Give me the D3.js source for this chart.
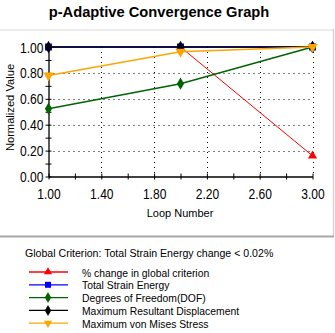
<!DOCTYPE html>
<html>
<head>
<meta charset="utf-8">
<script src="https://cdn.jsdelivr.net/npm/d3@7"></script>
<style>
  html, body { margin: 0; padding: 0; background: #ffffff; }
  svg { display: block; }
  text { font-family: "Liberation Sans", Arial, sans-serif; fill: #000; }
</style>
</head>
<body>
<svg id="chart" width="335" height="333"></svg>
<script>
// Loop numbers on the x axis
const loops = [1, 2, 3];
// Normalized values per loop (null = not reported for that loop)
const pctChange    = [null, 1.00, 0.16];
const strainEnergy = [1.00, 1.00, 1.00];
const dof          = [0.524, 0.717, 1.00];
const maxDisp      = [1.00, 1.00, 1.00];
const maxStress    = [0.78, 0.964, 1.00];

const xTickLabels = ["1.00", "1.40", "1.80", "2.20", "2.60", "3.00"];
const yTickLabels = ["0.00", "0.20", "0.40", "0.60", "0.80", "1.00"];

const seriesNames = [
  "% change in global criterion",
  "Total Strain Energy",
  "Degrees of Freedom(DOF)",
  "Maximum Resultant Displacement",
  "Maximum von Mises Stress"
];
const seriesColors = ["#ff0000", "#0000ff", "#006400", "#000000", "#ffa500"];
const seriesMarkers = ["triUp", "square", "diamond", "diamond", "triDown"];
const seriesValues = [pctChange, strainEnergy, dof, maxDisp, maxStress];

const svg = d3.select("#chart");

// Squeeze a text element horizontally so its glyphs look like a narrow UI font
function condense(sel, factor) {
  sel.each(function () {
    const w = this.getComputedTextLength();
    d3.select(this).attr("textLength", w * factor).attr("lengthAdjust", "spacingAndGlyphs");
  });
}

// Title
svg.append("text")
  .attr("x", 159).attr("y", 17)
  .attr("text-anchor", "middle")
  .style("font-size", "14px").style("font-weight", "bold")
  .text("p-Adaptive Convergence Graph")
  .call(condense, 1.05);

// Chart panel frame
svg.append("line").attr("x1", 0).attr("x2", 334).attr("y1", 30).attr("y2", 30)
  .attr("stroke", "#ececec").attr("stroke-width", 2);
svg.append("line").attr("x1", 333.5).attr("x2", 333.5).attr("y1", 29).attr("y2", 237)
  .attr("stroke", "#d4d4d4").attr("stroke-width", 1.5);
svg.append("line").attr("x1", 0).attr("x2", 334).attr("y1", 236.5).attr("y2", 236.5)
  .attr("stroke", "#a8a8a8").attr("stroke-width", 2);

const x = d3.scaleLinear().domain([1, 3]).range([48.5, 312.5]);
const y = d3.scaleLinear().domain([0, 1]).range([176.5, 47]);

// Dotted grid
const grid = svg.append("g");
const gridX = xTickLabels.map(Number).filter(v => v > 1);
const gridY = yTickLabels.map(Number).filter(v => v > 0 && v < 1);
grid.selectAll("line.gx").data(gridX).join("line")
  .attr("x1", d => Math.round(x(d)) + 0.5).attr("x2", d => Math.round(x(d)) + 0.5)
  .attr("y1", y(1)).attr("y2", y(0))
  .attr("stroke", "#000").attr("stroke-dasharray", "1,4");
grid.selectAll("line.gy").data(gridY).join("line")
  .attr("x1", x(1)).attr("x2", x(3))
  .attr("y1", d => Math.round(y(d)) + 0.5).attr("y2", d => Math.round(y(d)) + 0.5)
  .attr("stroke", "#000").attr("stroke-dasharray", "1,4");

// Axes
const xAxis = d3.axisBottom(x)
  .tickValues(d3.range(1, 3.0001, 0.2))
  .tickSizeInner(3).tickSizeOuter(0)
  .tickFormat(d => {
    const s = d3.format(".2f")(d);
    return xTickLabels.includes(s) ? s : "";
  });
const gx = svg.append("g").attr("transform", `translate(0,${y(0)})`).call(xAxis);
gx.select(".domain").attr("stroke-width", 1.3);
gx.selectAll(".tick line").attr("y1", -3).attr("y2", 3);
gx.selectAll(".tick text")
  .attr("y", 22).attr("dy", null)
  .style("font-size", "14px")
  .call(condense, 0.86);

const yAxis = d3.axisLeft(y)
  .tickValues(d3.range(0, 1.0001, 0.1))
  .tickSizeInner(3).tickSizeOuter(0)
  .tickFormat(d => {
    const s = d3.format(".2f")(d);
    return yTickLabels.includes(s) ? s : "";
  });
const gy = svg.append("g").attr("transform", `translate(${x(1)},0)`).call(yAxis);
gy.select(".domain").attr("stroke-width", 1.3);
gy.selectAll(".tick line").attr("x1", -3).attr("x2", 3);
gy.selectAll(".tick text")
  .attr("x", -5).attr("dy", "0.36em")
  .style("font-size", "14px")
  .call(condense, 0.86);
svg.selectAll(".tick text").style("fill", "#000");

// Axis titles
svg.append("text")
  .attr("x", 180).attr("y", 216.5)
  .attr("text-anchor", "middle")
  .style("font-size", "11px")
  .text("Loop Number");
svg.append("text")
  .attr("transform", "translate(13.5,107.5) rotate(-90)")
  .attr("text-anchor", "middle")
  .style("font-size", "11.5px")
  .text("Normalized Value")
  .call(condense, 0.97);

// Marker symbols
function markerPath(kind, s) {
  switch (kind) {
    case "triUp":   return d3.symbol(d3.symbolTriangle, s * s * 0.45)();
    case "triDown": return d3.symbol(d3.symbolTriangle, s * s * 0.45)();
    case "square":  return d3.symbol(d3.symbolSquare, s * s)();
    case "diamond": return d3.symbol(d3.symbolDiamond, s * s * 0.55)();
  }
}

// Series lines and markers
const plot = svg.append("g");
const line = d3.line()
  .defined(d => d.v != null)
  .x(d => x(d.loop)).y(d => y(d.v));

seriesValues.forEach((vals, i) => {
  const pts = loops.map((l, j) => ({ loop: l, v: vals[j] }));
  plot.append("path")
    .datum(pts)
    .attr("fill", "none")
    .attr("stroke", seriesColors[i])
    .attr("stroke-width", i === 0 ? 1 : 1.5)
    .attr("d", line);
  const size = seriesMarkers[i] === "triDown" ? 10 : (seriesMarkers[i] === "square" ? 7 : 9);
  plot.selectAll(null)
    .data(pts.filter(d => d.v != null))
    .join("path")
    .attr("transform", d => `translate(${x(d.loop)},${y(d.v)})` + (seriesMarkers[i] === "triDown" ? " rotate(180)" : ""))
    .attr("d", markerPath(seriesMarkers[i], size))
    .attr("fill", seriesColors[i]);
});

// Legend
svg.append("text")
  .attr("x", 25).attr("y", 257)
  .style("font-size", "11.5px")
  .text("Global Criterion: Total Strain Energy change < 0.02%")
  .call(condense, 0.92);

const legendY0 = 272, legendStep = 12.8;
const lg = svg.append("g");
seriesNames.forEach((name, i) => {
  const cy = legendY0 + i * legendStep;
  lg.append("line")
    .attr("x1", 29).attr("x2", 68).attr("y1", cy).attr("y2", cy)
    .attr("stroke", seriesColors[i]).attr("stroke-width", 1.3);
  const size = seriesMarkers[i] === "square" ? 6 : 8;
  lg.append("path")
    .attr("transform", `translate(48,${cy})` + (seriesMarkers[i] === "triDown" ? " rotate(180)" : ""))
    .attr("d", markerPath(seriesMarkers[i], size))
    .attr("fill", seriesColors[i]);
  lg.append("text")
    .attr("x", 82).attr("y", cy + 4.5)
    .style("font-size", "11.5px")
    .text(name)
    .call(condense, 0.9);
});
</script>
</body>
</html>
